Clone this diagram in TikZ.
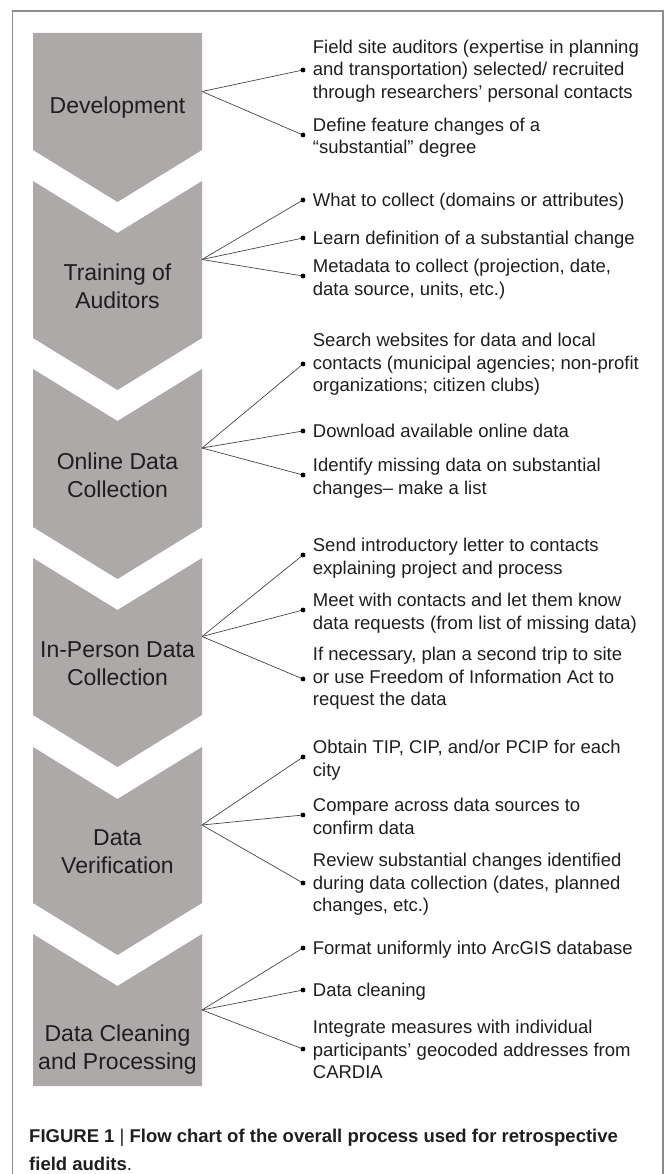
\documentclass[tikz,border=0pt]{standalone}
\usepackage{fontspec}
\setmainfont{Liberation Sans}

\definecolor{chev}{RGB}{172,169,168}
\definecolor{ink}{RGB}{30,30,30}
\definecolor{framegray}{RGB}{140,140,140}
\definecolor{wire}{RGB}{70,70,70}

% multi-line text blocks whose baseline is that of the first line
\newcommand{\itemlines}[1]{\begin{tabular}[t]{@{}l@{}}#1\end{tabular}}
\newcommand{\steplines}[1]{\begin{tabular}[t]{@{}c@{}}#1\end{tabular}}

\tikzset{
  chevron/.style={fill=chev, draw=none},
  steplabel/.style={font=\fontsize{23}{27.5}\selectfont, text=ink, inner sep=0pt, anchor=base},
  itemtext/.style={font=\fontsize{18.5}{22.5}\selectfont, text=ink, inner sep=0pt, anchor=base west},
  wire/.style={draw=wire, line width=0.7pt},
  bulletdot/.style={fill=black},
  captiontext/.style={font=\fontsize{18.5}{28}\selectfont, text=ink, inner sep=0pt, anchor=base west},
}

\begin{document}
\begin{tikzpicture}[x=1pt,y=-1pt]
\useasboundingbox (0,0) rectangle (665,1174);

% outer frame (open at the bottom)
\draw[framegray, line width=1.3pt] (12.7,1180) -- (12.7,11) -- (663,11) -- (663,1180);

% process chevrons
\fill[chevron] (33,33) -- (202,33) -- (202,150) -- (117.5,202) -- (33,150) -- cycle;
\fill[chevron] (33,181) -- (117.5,233) -- (202,181) -- (202,338) -- (117.5,390) -- (33,338) -- cycle;
\fill[chevron] (33,369) -- (117.5,421) -- (202,369) -- (202,527) -- (117.5,579) -- (33,527) -- cycle;
\fill[chevron] (33,558) -- (117.5,610) -- (202,558) -- (202,715) -- (117.5,767) -- (33,715) -- cycle;
\fill[chevron] (33,747) -- (117.5,799) -- (202,747) -- (202,903) -- (117.5,955) -- (33,903) -- cycle;
\fill[chevron] (33,934) -- (117.5,986) -- (202,934) -- (202,1086) -- (33,1086) -- cycle;

% chevron labels
\node[steplabel] (dev)  at (117.5,113.5) {Development};
\node[steplabel] (train) at (117.5,280.5) {\steplines{Training of\\Auditors}};
\node[steplabel] (online) at (117.5,469.5) {\steplines{Online Data\\Collection}};
\node[steplabel] (person) at (117.5,657.5) {\steplines{In-Person Data\\Collection}};
\node[steplabel] (verif) at (117.5,845.5) {\steplines{Data\\Verification}};
\node[steplabel] (clean) at (117.5,1041.5) {\steplines{Data Cleaning\\and Processing}};

% fan-out points on the right edge of each chevron
\coordinate (fdev)    at (202,91.5);
\coordinate (ftrain)  at (202,259.5);
\coordinate (fonline) at (202,448);
\coordinate (fperson) at (202,636.5);
\coordinate (fverif)  at (202,825);
\coordinate (fclean)  at (202,1010);

% bullet points
\coordinate (a1) at (303,70);
\coordinate (a2) at (303,135);
\coordinate (b1) at (303,200);
\coordinate (b2) at (303,238);
\coordinate (b3) at (303,276);
\coordinate (c1) at (303,364);
\coordinate (c2) at (303,431);
\coordinate (c3) at (303,475);
\coordinate (d1) at (303,555);
\coordinate (d2) at (303,610);
\coordinate (d3) at (303,679);
\coordinate (e1) at (303,757);
\coordinate (e2) at (303,815);
\coordinate (e3) at (303,883);
\coordinate (f1) at (303,948);
\coordinate (f2) at (303,990);
\coordinate (f3) at (303,1049);

% connectors
\foreach \s/\t in {fdev/a1,fdev/a2,ftrain/b1,ftrain/b2,ftrain/b3,
                   fonline/c1,fonline/c2,fonline/c3,fperson/d1,fperson/d2,fperson/d3,
                   fverif/e1,fverif/e2,fverif/e3,fclean/f1,fclean/f2,fclean/f3}
  \draw[wire] (\s) -- (\t);
\foreach \t in {a1,a2,b1,b2,b3,c1,c2,c3,d1,d2,d3,e1,e2,e3,f1,f2,f3}
  \fill[bulletdot] (\t) circle (2.4);

% item texts
\node[itemtext] (ta1) at (312.7,53.5) {\itemlines{Field site auditors (expertise in planning\\and transportation) selected/ recruited\\through researchers’ personal contacts}};
\node[itemtext] (ta2) at (312.7,131.5) {\itemlines{Define feature changes of a\\“substantial” degree}};
\node[itemtext] (tb1) at (312.7,206.5) {What to collect (domains or attributes)};
\node[itemtext] (tb2) at (312.7,244.5) {Learn definition of a substantial change};
\node[itemtext] (tb3) at (312.7,272.5) {\itemlines{Metadata to collect (projection, date,\\data source, units, etc.)}};
\node[itemtext] (tc1) at (312.7,346.5) {\itemlines{Search websites for data and local\\contacts (municipal agencies; non-profit\\organizations; citizen clubs)}};
\node[itemtext] (tc2) at (312.7,437.5) {Download available online data};
\node[itemtext] (tc3) at (312.7,471.5) {\itemlines{Identify missing data on substantial\\changes– make a list}};
\node[itemtext] (td1) at (312.7,551.5) {\itemlines{Send introductory letter to contacts\\explaining project and process}};
\node[itemtext] (td2) at (312.7,606.5) {\itemlines{Meet with contacts and let them know\\data requests (from list of missing data)}};
\node[itemtext] (td3) at (312.7,660.5) {\itemlines{If necessary, plan a second trip to site\\or use Freedom of Information Act to\\request the data}};
\node[itemtext] (te1) at (312.7,753.5) {\itemlines{Obtain TIP, CIP, and/or PCIP for each\\city}};
\node[itemtext] (te2) at (312.7,811.5) {\itemlines{Compare across data sources to\\confirm data}};
\node[itemtext] (te3) at (312.7,866.5) {\itemlines{Review substantial changes identified\\during data collection (dates, planned\\changes, etc.)}};
\node[itemtext] (tf1) at (312.7,954.5) {Format uniformly into ArcGIS database};
\node[itemtext] (tf2) at (312.7,996.5) {Data cleaning};
\node[itemtext] (tf3) at (312.7,1033.5) {\itemlines{Integrate measures with individual\\participants’ geocoded addresses from\\CARDIA}};

% caption
\node[captiontext] (cap) at (29,1142) {\itemlines{\textbf{FIGURE 1} | \textbf{Flow chart of the overall process used for retrospective}\\\textbf{field audits}.}};
\end{tikzpicture}
\end{document}
